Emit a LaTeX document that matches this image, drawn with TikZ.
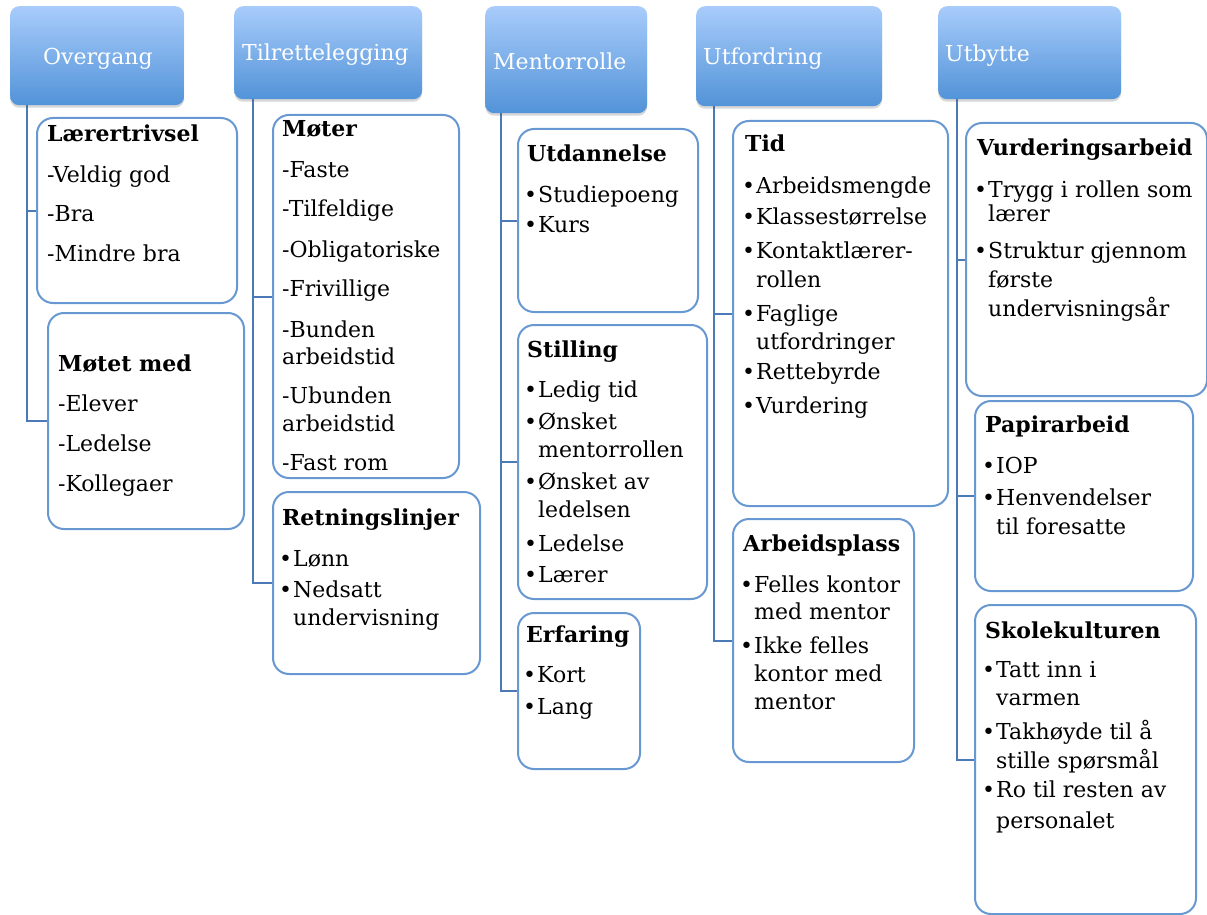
\documentclass[tikz,border=0pt]{standalone}
\usepackage{fontspec}
\setmainfont{DejaVu Serif}
\usetikzlibrary{shadows,backgrounds}
\definecolor{hdrTop}{RGB}{168,204,251}
\definecolor{hdrBot}{RGB}{82,147,216}
\definecolor{boxline}{RGB}{104,152,210}
\definecolor{connline}{RGB}{76,122,182}
\newcommand\bu{\makebox[11pt][l]{\hspace{-3pt}•}}
\newcommand\ci{\hspace*{11pt}}
\newcommand\tb[2]{\parbox[t]{#1pt}{\raggedright #2}}
\begin{document}
\begin{tikzpicture}[x=1pt,y=1pt,
 hdr/.style={rectangle, rounded corners=9, top color=hdrTop, bottom color=hdrBot, draw=none, inner sep=0, anchor=north west, drop shadow={shadow xshift=0pt, shadow yshift=-2.5pt, opacity=0.22, fill=black!70}},
 htxt/.style={anchor=base west, inner sep=0, text=white, font=\fontsize{22}{27}\selectfont},
 cbox/.style={rectangle, rounded corners=16, draw=boxline, line width=2, fill=white, inner sep=0, anchor=north west},
 txt/.style={anchor=base west, inner sep=0, font=\fontsize{22}{28}\selectfont},
 conn/.style={draw=connline, line width=2}]
\useasboundingbox (0,0) rectangle (1207,-915);
% headers
\node[hdr, minimum width=174, minimum height=99] (hov) at (10,-6) {};
\node[hdr, minimum width=188, minimum height=93] (hti) at (234,-6) {};
\node[hdr, minimum width=162, minimum height=107] (hme) at (485,-6) {};
\node[hdr, minimum width=186, minimum height=100] (hut) at (696,-6) {};
\node[hdr, minimum width=183, minimum height=93] (hub) at (938,-6) {};
\node[htxt] (hovT) at (43,-65) {Overgang};
\node[htxt] (htiT) at (242,-61) {Tilrettelegging};
\node[htxt] (hmeT) at (493,-70) {Mentorrolle};
\node[htxt] (hutT) at (703,-65) {Utfordring};
\node[htxt] (hubT) at (945,-62) {Utbytte};
\coordinate (ovx) at ([xshift=17]hov.south west);
\coordinate (tix) at ([xshift=19]hti.south west);
\coordinate (mex) at ([xshift=16]hme.south west);
\coordinate (utx) at ([xshift=18]hut.south west);
\coordinate (ubx) at ([xshift=19]hub.south west);
% content boxes
\node[cbox, minimum width=200, minimum height=185] (lt) at (36,-117) {};
\node[cbox, minimum width=196, minimum height=216] (mm) at (47,-312) {};
\node[cbox, minimum width=186, minimum height=363] (mo) at (272,-114) {};
\node[cbox, minimum width=207, minimum height=182] (rl) at (272,-491) {};
\node[cbox, minimum width=180, minimum height=183] (ud) at (517,-128) {};
\node[cbox, minimum width=189, minimum height=274] (st) at (517,-324) {};
\node[cbox, minimum width=122, minimum height=156] (ef) at (517,-612) {};
\node[cbox, minimum width=215, minimum height=385] (ti) at (732,-120) {};
\node[cbox, minimum width=181, minimum height=243] (ap) at (732,-518) {};
\node[cbox, minimum width=241, minimum height=273] (va) at (965,-122) {};
\node[cbox, minimum width=218, minimum height=190] (pa) at (974,-400) {};
\node[cbox, minimum width=221, minimum height=309] (sk) at (974,-604) {};
% texts
\node[txt] (ltT) at (47,-142) {\tb{190}{\textbf{Lærertrivsel}\\[12pt]-Veldig god\\[12pt]-Bra\\[12pt]-Mindre bra}};
\node[txt] (mmT) at (58,-371) {\tb{180}{\textbf{Møtet med}\\[12pt]-Elever\\[12pt]-Ledelse\\[12pt]-Kollegaer}};
\node[txt] (moT) at (282,-137) {\tb{175}{\setlength\baselineskip{27pt}\textbf{Møter}\\[13pt]-Faste\\[13pt]-Tilfeldige\\[13pt]-Obligatoriske\\[13pt]-Frivillige\\[13pt]-Bunden\\arbeidstid\\[13pt]-Ubunden\\arbeidstid\\[13pt]-Fast rom}};
\node[txt] (rlT) at (282,-525) {\tb{195}{\textbf{Retningslinjer}\\[13pt]\bu Lønn\\[3pt]\bu Nedsatt\\\ci undervisning}};
\node[txt] (udT) at (527,-161) {\tb{170}{\textbf{Utdannelse}\\[13pt]\bu Studiepoeng\\[2pt]\bu Kurs}};
\node[txt] (stT) at (527,-357) {\tb{178}{\textbf{Stilling}\\[12pt]\bu Ledig tid\\[4pt]\bu Ønsket\\\ci mentorrollen\\[4pt]\bu Ønsket av\\\ci ledelsen\\[6pt]\bu Ledelse\\[3pt]\bu Lærer}};
\node[txt] (efT) at (526,-642) {\tb{112}{\textbf{Erfaring}\\[12pt]\bu Kort\\[4pt]\bu Lang}};
\node[txt] (tiT) at (745,-152) {\tb{200}{\textbf{Tid}\\[14pt]\bu Arbeidsmengde\\[3pt]\bu Klassestørrelse\\[6pt]\bu Kontaktlærer-\\\ci rollen\\[6pt]\bu Faglige\\\ci utfordringer\\[3pt]\bu Rettebyrde\\[6pt]\bu Vurdering}};
\node[txt] (apT) at (743,-551) {\tb{168}{\textbf{Arbeidsplass}\\[13pt]\bu Felles kontor\\[-1pt]\ci med mentor\\[6pt]\bu Ikke felles\\\ci kontor med\\\ci mentor}};
\node[txt] (vaT) at (977,-156) {\tb{228}{\textbf{Vurderingsarbeid}\\[13pt]\bu Trygg i rollen som\\[-3pt]\ci lærer\\[9pt]\bu Struktur gjennom\\\ci første\\[2pt]\ci undervisningsår}};
\node[txt] (paT) at (985,-432) {\tb{205}{\textbf{Papirarbeid}\\[13pt]\bu IOP\\[4pt]\bu Henvendelser\\[1pt]\ci til foresatte}};
\node[txt] (skT) at (985,-638) {\tb{208}{\textbf{Skolekulturen}\\[11pt]\bu Tatt inn i\\\ci varmen\\[6pt]\bu Takhøyde til å\\[1pt]\ci stille spørsmål\\[1pt]\bu Ro til resten av\\[3pt]\ci personalet}};
% connectors
\begin{scope}[on background layer]
\fill[white] (0,0) rectangle (1207,-915);
\draw[conn] (ovx) |- (lt.west);
\draw[conn] (ovx) |- (mm.west);
\draw[conn] (tix) |- (mo.west);
\draw[conn] (tix) |- (rl.west);
\draw[conn] (mex) |- (ud.west);
\draw[conn] (mex) |- (st.west);
\draw[conn] (mex) |- (ef.west);
\draw[conn] (utx) |- (ti.west);
\draw[conn] (utx) |- (ap.west);
\draw[conn] (ubx) |- (va.west);
\draw[conn] (ubx) |- (pa.west);
\draw[conn] (ubx) |- (sk.west);
\end{scope}
\end{tikzpicture}
\end{document}
